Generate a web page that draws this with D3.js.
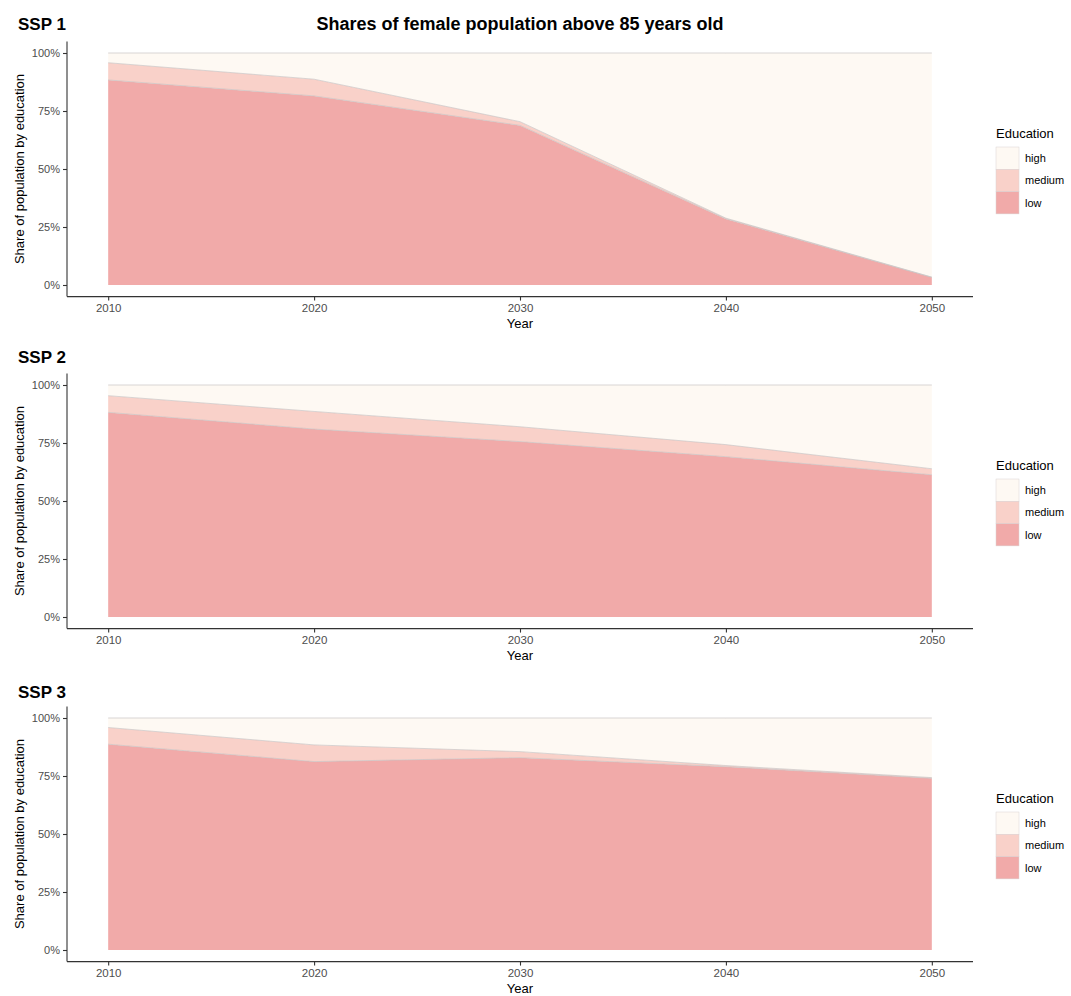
<!DOCTYPE html>
<html>
<head>
<meta charset="utf-8">
<script src="https://cdn.jsdelivr.net/npm/d3@7"></script>
<style>
  html, body { margin: 0; padding: 0; background: #fff; }
  svg { display: block; font-family: "Liberation Sans", Arial, sans-serif; }
</style>
</head>
<body>
<svg id="chart" width="1071" height="996"></svg>
<script>
// ---- data ----
const years = [2010, 2020, 2030, 2040, 2050];
const educationLevels = ["low", "medium", "high"];
const scenarioNames = ["SSP 1", "SSP 2", "SSP 3"];

const ssp1Low    = [88.4, 81.5, 68.8, 28.5, 3.3];
const ssp1Medium = [7.4, 7.2, 1.6, 0.3, 0.1];
const ssp1High   = [4.2, 11.3, 29.6, 71.2, 96.6];

const ssp2Low    = [88.2, 81.0, 75.6, 69.1, 61.3];
const ssp2Medium = [7.2, 7.6, 6.4, 5.2, 2.6];
const ssp2High   = [4.6, 11.4, 18.0, 25.7, 36.1];

const ssp3Low    = [88.7, 81.2, 82.9, 79.0, 74.0];
const ssp3Medium = [7.2, 7.2, 2.6, 0.5, 0.3];
const ssp3High   = [4.1, 11.6, 14.5, 20.5, 25.7];

const yTicks = [0, 25, 50, 75, 100];
const xTicks = [2010, 2020, 2030, 2040, 2050];
const chartTitle = "Shares of female population above 85 years old";
const yLabel = "Share of population by education";
const xLabel = "Year";
const legendTitle = "Education";
const legendOrder = ["high", "medium", "low"];

const scenarios = [
  { low: ssp1Low, medium: ssp1Medium, high: ssp1High },
  { low: ssp2Low, medium: ssp2Medium, high: ssp2High },
  { low: ssp3Low, medium: ssp3Medium, high: ssp3High }
];

// ---- styling ----
const colors = { low: "#f1aaa9", medium: "#f9d1c9", high: "#fef9f3" };
const svg = d3.select("#chart");

const x = d3.scaleLinear().domain([2008, 2052]).range([67, 973]);
const panelOffsets = [0, 332, 665];
const labelOffsets = [0, 333, 668];

svg.append("text")
  .attr("x", 520).attr("y", 30)
  .attr("text-anchor", "middle")
  .attr("font-size", 18).attr("font-weight", "bold").attr("fill", "#000")
  .text(chartTitle);

scenarios.forEach((sc, i) => {
  const off = panelOffsets[i];
  const g = svg.append("g").attr("transform", `translate(0,${off})`);
  const y = d3.scaleLinear().domain([-5, 105]).range([296.6, 41.4]);

  const rows = years.map((yr, j) => ({ year: yr, low: sc.low[j], medium: sc.medium[j], high: sc.high[j] }));
  const stack = d3.stack().keys(educationLevels);
  const series = stack(rows);

  const area = d3.area()
    .x(d => x(d.data.year))
    .y0(d => y(d[0]))
    .y1(d => y(d[1]));
  const topLine = d3.line()
    .x(d => x(d.data.year))
    .y(d => y(d[1]));

  g.selectAll("path.area").data(series).join("path")
    .attr("class", "area")
    .attr("d", area)
    .attr("fill", d => colors[d.key]);
  g.selectAll("path.edge").data(series).join("path")
    .attr("class", "edge")
    .attr("d", topLine)
    .attr("fill", "none")
    .attr("stroke", "#c9c4c4")
    .attr("stroke-width", 0.7);

  // scenario label
  svg.append("text")
    .attr("x", 18).attr("y", 30 + labelOffsets[i])
    .attr("font-size", 17).attr("font-weight", "bold").attr("fill", "#000")
    .text(scenarioNames[i]);

  // y axis
  const yAxis = d3.axisLeft(y).tickValues(yTicks).tickSize(4).tickPadding(3)
    .tickFormat(d => d + "%");
  const ya = g.append("g").attr("transform", "translate(67,0)").call(yAxis);
  ya.select(".domain").attr("stroke", "#333").attr("stroke-width", 1.1)
    .attr("d", `M0,${y(105)}V${y(-5)}`);
  ya.selectAll(".tick line").attr("stroke", "#333").attr("stroke-width", 1.1);
  ya.selectAll(".tick text").attr("fill", "#4d4d4d").attr("font-size", 11)
    .attr("font-family", "Liberation Sans, Arial, sans-serif");

  // x axis
  const xAxis = d3.axisBottom(x).tickValues(xTicks).tickSize(4).tickPadding(3)
    .tickFormat(d3.format("d"));
  const xa = g.append("g").attr("transform", `translate(0,${y(-5)})`).call(xAxis);
  xa.select(".domain").attr("stroke", "#333").attr("stroke-width", 1.1).attr("d", `M67,0H973`);
  xa.selectAll(".tick line").attr("stroke", "#333").attr("stroke-width", 1.1);
  xa.selectAll(".tick text").attr("fill", "#4d4d4d").attr("font-size", 11.5)
    .attr("font-family", "Liberation Sans, Arial, sans-serif");

  g.append("text")
    .attr("x", 520).attr("y", 328)
    .attr("text-anchor", "middle").attr("font-size", 13).attr("fill", "#000")
    .text(xLabel);

  g.append("text")
    .attr("transform", `translate(24,${(y(-5) + y(105)) / 2}) rotate(-90)`)
    .attr("text-anchor", "middle").attr("font-size", 13).attr("fill", "#000")
    .text(yLabel);

  // legend
  const lg = g.append("g").attr("transform", "translate(996,0)");
  lg.append("text").attr("x", 0).attr("y", 138)
    .attr("font-size", 13).attr("fill", "#000").text(legendTitle);
  legendOrder.forEach((k, j) => {
    lg.append("rect")
      .attr("x", 0).attr("y", 147 + j * 22.3)
      .attr("width", 23).attr("height", 22.3)
      .attr("fill", colors[k]).attr("stroke", "#d9d4d4").attr("stroke-width", 0.5);
    lg.append("text")
      .attr("x", 29).attr("y", 147 + j * 22.3 + 15)
      .attr("font-size", 11).attr("fill", "#000").text(k);
  });
});
</script>
</body>
</html>
